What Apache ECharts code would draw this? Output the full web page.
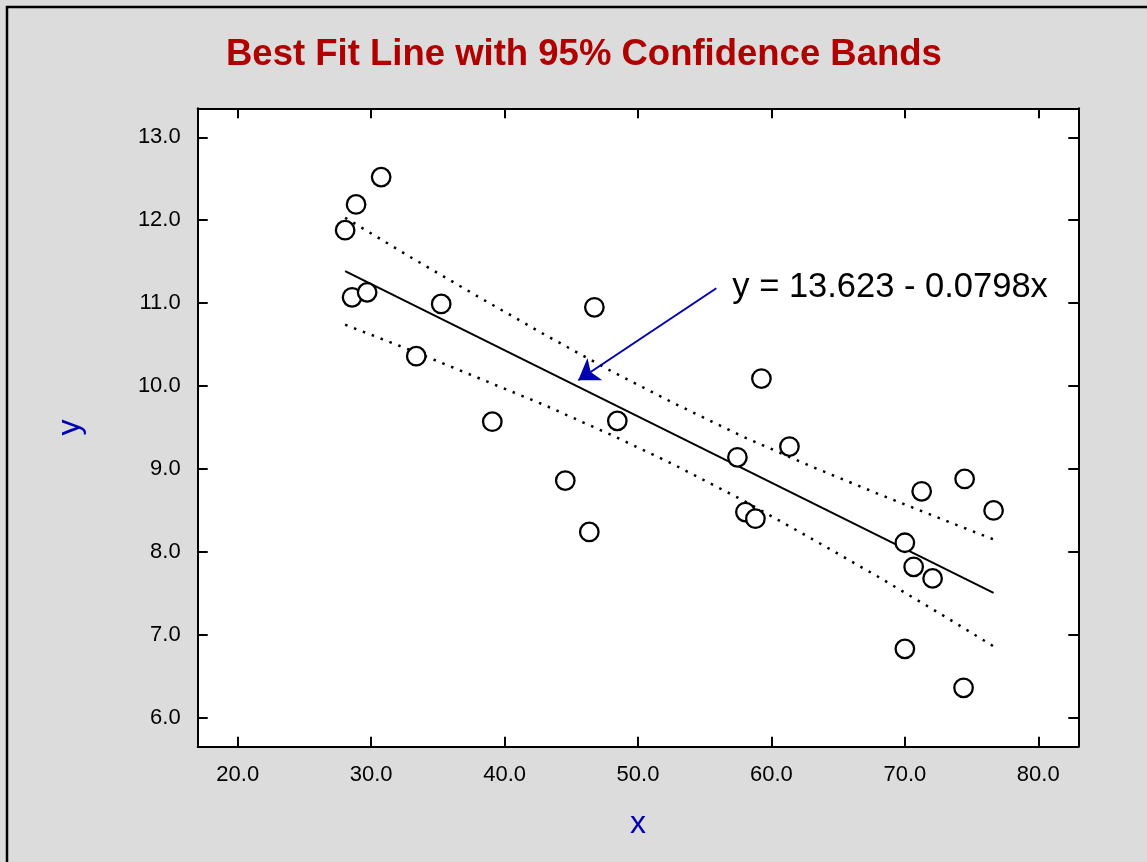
<!DOCTYPE html>
<html>
<head>
<meta charset="utf-8">
<script src="https://cdn.jsdelivr.net/npm/echarts@6/dist/echarts.min.js"></script>
<style>
html,body{margin:0;padding:0;background:#dcdcdc;}
#chart{width:1147px;height:862px;}
</style>
</head>
<body>
<div id="chart"></div>
<script>
// ---- data ----
var pointX = [28.05, 28.87, 30.75, 28.57, 29.70, 35.25, 33.38, 39.08, 44.55, 46.35, 46.73, 48.45, 57.45,
              58.05, 58.80, 59.25, 61.35, 70.00, 70.66, 72.08, 71.26, 74.48, 76.65, 70.00, 74.40];
var pointY = [11.88, 12.19, 12.52, 11.07, 11.13, 10.99, 10.36, 9.57, 8.86, 8.24, 10.95, 9.58, 9.14,
              8.48, 8.40, 10.09, 9.27, 8.11, 7.82, 7.68, 8.73, 8.88, 8.50, 6.83, 6.36];
var fitX = [28.05, 76.65];
var fitY = [11.385, 7.506];
var bandX = [28.05, 33, 38, 43, 48, 52.6, 58, 63, 68, 73, 76.65];
var bandUpper = [12.03, 11.55, 11.08, 10.62, 10.18, 9.80, 9.38, 9.03, 8.70, 8.38, 8.15];
var bandLower = [10.74, 10.43, 10.10, 9.77, 9.41, 9.06, 8.61, 8.16, 7.70, 7.22, 6.86];
var arrowFrom = [55.87, 11.18];
var arrowTo = [45.52, 10.07];
var equationAt = [57.07, 11.19];
var equationText = 'y = 13.623 - 0.0798x';
var titleText = 'Best Fit Line with 95% Confidence Bands';
var xTicks = [20, 30, 40, 50, 60, 70, 80];
var yTicks = [6, 7, 8, 9, 10, 11, 12, 13];
var xName = 'x', yName = 'y';

function pairs(xs, ys){ return xs.map(function(v,i){ return [v, ys[i]]; }); }

var FONT = '"Liberation Sans", Arial, Helvetica, sans-serif';
var chart = echarts.init(document.getElementById('chart'), null, {renderer:'canvas'});

var axisLine = {show:true, lineStyle:{color:'#000', width:2}};
var tick = function(vals){ return {show:true, inside:true, length:10, lineStyle:{color:'#000', width:2}, customValues: vals}; };
var fmt = function(v){ return Number(v).toFixed(1); };

var option = {
  animation: false,
  backgroundColor: '#dcdcdc',
  title: {
    text: titleText,
    left: 221, top: 31,
    textStyle: {fontFamily: FONT, fontSize: 36.5, fontWeight: 'bold', color: '#b00000'}
  },
  grid: {left: 197.7, right: 68.7, top: 108.3, bottom: 115.3, show: true, backgroundColor: '#ffffff', borderWidth: 0},
  xAxis: [{
    type: 'value', min: 17, max: 83, position: 'bottom',
    axisLine: axisLine, axisTick: tick(xTicks), splitLine: {show:false},
    axisLabel: {show:true, customValues: xTicks, formatter: fmt, margin: 17, fontFamily: FONT, fontSize: 22, color: '#000'},
    name: xName, nameLocation: 'middle', nameGap: 61,
    nameTextStyle: {fontFamily: FONT, fontSize: 32, color: '#0000b4'}
  },{
    type: 'value', min: 17, max: 83, position: 'top',
    axisLine: axisLine, axisTick: tick(xTicks), splitLine: {show:false},
    axisLabel: {show:false}
  }],
  yAxis: [{
    type: 'value', min: 5.65, max: 13.35, position: 'left',
    axisLine: axisLine, axisTick: tick(yTicks), splitLine: {show:false},
    axisLabel: {show:true, customValues: yTicks, formatter: fmt, margin: 17, fontFamily: FONT, fontSize: 22, color: '#000'},
    name: yName, nameLocation: 'middle', nameGap: 112,
    nameTextStyle: {fontFamily: FONT, fontSize: 32, color: '#0000b4'}
  },{
    type: 'value', min: 5.65, max: 13.35, position: 'right',
    axisLine: axisLine, axisTick: tick(yTicks), splitLine: {show:false},
    axisLabel: {show:false}
  }],
  graphic: [{
    type: 'polyline', silent: true, z: 100,
    shape: {points: [[7, 862], [7, 7], [1147, 7]]},
    style: {stroke: '#000', lineWidth: 2.5, fill: null}
  }],
  series: [
    {type:'line', data: pairs(bandX, bandUpper), symbol:'none', z: 2,
     lineStyle:{color:'#000', width:2.5, type:[2.5, 7]}},
    {type:'line', data: pairs(bandX, bandLower), symbol:'none', z: 2,
     lineStyle:{color:'#000', width:2.5, type:[2.5, 7]}},
    {type:'line', data: pairs(fitX, fitY), symbol:'none', z: 3,
     lineStyle:{color:'#000', width:2}},
    {type:'lines', coordinateSystem:'cartesian2d', z: 4,
     data:[{coords:[arrowFrom, arrowTo]}],
     symbol:['none','arrow'], symbolSize:[12, 20],
     lineStyle:{color:'#0000b0', width:2, opacity:1}},
    {type:'scatter', data: pairs(pointX, pointY), symbol:'circle', symbolSize: 18.5, z: 5,
     itemStyle:{color:'#ffffff', borderColor:'#000', borderWidth:2.3, opacity:1}},
    {type:'scatter', data:[equationAt], symbolSize: 0, z: 6, silent: true,
     itemStyle:{opacity:1},
     label:{show:true, position:'right', distance:0, formatter: equationText,
            fontFamily: FONT, fontSize: 34.5, color:'#000000', opacity: 1}}
  ]
};
chart.setOption(option);
</script>
</body>
</html>
